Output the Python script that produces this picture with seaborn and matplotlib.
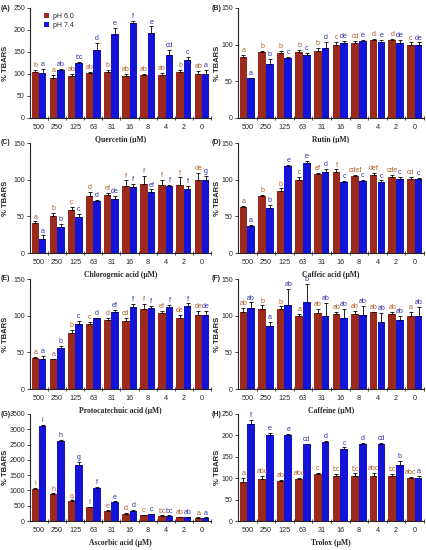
import matplotlib
matplotlib.use("Agg")
import matplotlib.pyplot as plt
import seaborn as sns
import pandas as pd
import numpy as np
from matplotlib.ticker import MultipleLocator

conc = ["500", "250", "125", "63", "31", "16", "8", "4", "2", "0"]
groups = ["pH 6.0", "pH 7.4"]

A_ph6 = [105, 92, 95, 103, 105, 95, 97, 97, 105, 100]
A_ph74 = [102, 110, 124, 155, 191, 216, 194, 143, 132, 100]
A_err6 = [4, 5, 6, 2, 4, 5, 3, 5, 4, 6]
A_err74 = [9, 2, 4, 16, 13, 4, 14, 12, 7, 9]
A_let6 = ["b", "a", "ab", "ab", "b", "ab", "ab", "ab", "b", "ab"]
A_let74 = ["a", "ab", "bc", "d", "e", "f", "e", "cd", "c", "a"]

B_ph6 = [83, 90, 89, 90, 91, 100, 102, 106, 107, 100]
B_ph74 = [54, 73, 81.5, 86.5, 95.5, 102.5, 105, 103, 102, 100]
B_err6 = [3, 1, 3, 3, 4, 4, 3, 2, 1, 3]
B_err74 = [1, 8, 2, 2, 8, 3, 2, 3, 4, 3]
B_let6 = ["a", "b", "b", "b", "b", "c", "cd", "d", "d", "c"]
B_let74 = ["a", "b", "c", "c", "d", "de", "e", "e", "de", "de"]

C_ph6 = [41, 51, 58, 78, 79.5, 92, 94.5, 93, 93, 100]
C_ph74 = [19, 35.5, 49.5, 70.5, 73.5, 90, 82.7, 91, 87.7, 100]
C_err6 = [2, 4, 5, 5, 2, 7, 10, 7, 10, 9]
C_err74 = [5, 4, 4, 2, 4, 4, 4, 2, 4, 5]
C_let6 = ["a", "b", "c", "d", "ef", "f", "f", "f", "f", "de"]
C_let74 = ["a", "b", "c", "d", "de", "f", "ef", "f", "f", "g"]

D_ph6 = [62.7, 78, 84, 99, 107.5, 111, 104.7, 106.6, 103, 100.5]
D_ph74 = [37, 62, 118, 122.6, 110, 96.7, 98, 97, 100.5, 100.5]
D_err6 = [2, 1, 4, 5, 2, 3, 2, 3, 3, 3]
D_err74 = [1, 3, 2, 3, 5, 2, 2, 2, 3, 2]
D_let6 = ["a", "b", "b", "c", "ef", "f", "cdef", "def", "cde", "cd"]
D_let74 = ["a", "b", "e", "e", "d", "c", "c", "c", "c", "c"]

E_ph6 = [41.8, 40.5, 77, 88.6, 94.5, 93, 109, 104, 97, 101]
E_ph74 = [40.5, 55.5, 88.6, 96.4, 105.5, 112, 110, 112, 113.6, 101]
E_err6 = [2, 1, 3, 3, 2, 4, 7, 2, 4, 6]
E_err74 = [5, 3, 4, 1, 2, 4, 3, 3, 3, 6]
E_let6 = ["a", "a", "b", "c", "d", "cd", "f", "ef", "de", "de"]
E_let74 = ["a", "b", "c", "d", "ef", "f", "f", "f", "f", "de"]

F_ph6 = [104.5, 109, 108.6, 99, 103.6, 102, 102, 104.5, 102, 100]
F_ph74 = [111, 86, 114, 118, 100, 97, 100.5, 92, 94, 100]
F_err6 = [6, 5, 4, 3, 5, 3, 5, 1, 3, 5]
F_err74 = [7, 6, 22, 25, 17, 12, 13, 12, 6, 12]
F_let6 = ["ab", "b", "b", "a", "ab", "ab", "ab", "ab", "ab", "a"]
F_let74 = ["ab", "a", "ab", "b", "ab", "ab", "ab", "ab", "ab", "ab"]

G_ph6 = [1054, 870, 652, 456, 326, 239, 196, 174, 130, 109]
G_ph74 = [3109, 2620, 1826, 1076, 609, 337, 228, 174, 130, 109]
G_err6 = [20, 30, 20, 15, 20, 20, 10, 10, 10, 10]
G_err74 = [20, 20, 100, 30, 30, 20, 10, 10, 10, 10]
G_let6 = ["i", "h", "g", "f", "e", "d", "c", "bc", "ab", "a"]
G_let74 = ["i", "h", "g", "f", "e", "d", "c", "bc", "ab", "a"]

H_ph6 = [92, 98, 94, 99, 109, 106, 104, 104, 106, 100]
H_ph74 = [226, 200, 201, 179, 184, 168, 181, 181, 130.5, 100]
H_err6 = [8, 8, 2, 2, 4, 4, 7, 8, 3, 3]
H_err74 = [10, 5, 3, 2, 3, 4, 2, 2, 10, 6]
H_let6 = ["a", "abc", "ab", "abc", "c", "bc", "bc", "abc", "bc", "abc"]
H_let74 = ["f", "e", "e", "cd", "d", "c", "d", "cd", "b", "a"]

panels = [
    ("(A)", "Quercetin (\u03bcM)", A_ph6, A_ph74, A_err6, A_err74, A_let6, A_let74, 250, 50),
    ("(B)", "Rutin (\u03bcM)", B_ph6, B_ph74, B_err6, B_err74, B_let6, B_let74, 150, 50),
    ("(C)", "Chlorogenic acid (\u03bcM)", C_ph6, C_ph74, C_err6, C_err74, C_let6, C_let74, 150, 50),
    ("(D)", "Caffeic acid (\u03bcM)", D_ph6, D_ph74, D_err6, D_err74, D_let6, D_let74, 150, 50),
    ("(E)", "Protocatechuic acid (\u03bcM)", E_ph6, E_ph74, E_err6, E_err74, E_let6, E_let74, 150, 50),
    ("(F)", "Caffeine (\u03bcM)", F_ph6, F_ph74, F_err6, F_err74, F_let6, F_let74, 150, 50),
    ("(G)", "Ascorbic acid (\u03bcM)", G_ph6, G_ph74, G_err6, G_err74, G_let6, G_let74, 3500, 500),
    ("(H)", "Trolox (\u03bcM)", H_ph6, H_ph74, H_err6, H_err74, H_let6, H_let74, 250, 50),
]

sns.set_style("ticks")
plt.rcParams["font.family"] = ["Liberation Sans", "DejaVu Sans"]

bar_colors = {"pH 6.0": "#9C2A1C", "pH 7.4": "#1414D8"}
let_colors = ["#B0602A", "#3434A8"]

fig = plt.figure(figsize=(4.27, 5.5), dpi=100)

row_bottoms = [1 - 118 / 550, 1 - 253 / 550, 1 - 389 / 550, 1 - 521 / 550]
row_h = [110 / 550, 110 / 550, 110 / 550, 107 / 550]
col_left = [30 / 427, 238 / 427]
col_w = [181 / 427, 186 / 427]
panel_lbl_x = [-0.165, -0.142]
ylab_x = [-0.115, -0.092]

for i, (plbl, xlab, v6, v74, e6, e74, l6, l74, ymax, ystep) in enumerate(panels):
    r, c = divmod(i, 2)
    ax = fig.add_axes([col_left[c], row_bottoms[r], col_w[c], row_h[r]])
    df = pd.DataFrame({
        "conc": conc * 2,
        "pH": [groups[0]] * len(conc) + [groups[1]] * len(conc),
        "val": list(v6) + list(v74),
    })
    sns.barplot(data=df, x="conc", y="val", hue="pH", order=conc, hue_order=groups,
                palette=bar_colors, errorbar=None, width=0.82, ax=ax,
                legend=(i == 0), linewidth=0, saturation=1)
    off = ymax * 0.008
    for k, (errs, lets) in enumerate([(e6, l6), (e74, l74)]):
        cont = ax.containers[k]
        for patch, err, let in zip(cont.patches, errs, lets):
            x = patch.get_x() + patch.get_width() / 2
            top = patch.get_height()
            ax.errorbar([x], [top], yerr=[[0], [err]], fmt="none", ecolor="black",
                        elinewidth=0.6, capsize=1.3, capthick=0.6)
            ax.text(x, top + err + off, let, ha="center", va="bottom",
                    fontsize=5.1, color=let_colors[k])
    ax.set_ylim(0, ymax)
    ax.yaxis.set_major_locator(MultipleLocator(ystep))
    ax.set_xlim(-0.5, len(conc) - 0.5)
    ax.set_xticks(np.arange(len(conc)))
    ax.set_xticklabels(conc)
    ax.set_xticks(np.arange(len(conc)) + 0.5, minor=True)
    ax.tick_params(axis="x", which="major", length=0, labelsize=5.2, pad=4)
    ax.tick_params(axis="x", which="minor", length=2.5, width=0.6, direction="inout")
    ax.tick_params(axis="y", which="major", length=2.5, width=0.6, labelsize=5, pad=1.2)
    for s in ["left", "bottom"]:
        ax.spines[s].set_linewidth(0.8)
    sns.despine(ax=ax)
    ax.set_ylabel("% TBARS", fontsize=5.5, fontweight="bold")
    ax.yaxis.set_label_coords(ylab_x[c], 0.5)
    ax.set_xlabel(xlab, fontsize=5.5, fontweight="bold",
                  family=["Liberation Serif", "DejaVu Serif"], labelpad=4)
    ax.text(panel_lbl_x[c], 1.0, plbl, transform=ax.transAxes, ha="left",
            va="center", fontsize=5, fontweight="bold")
    if i == 0:
        leg = ax.legend(loc="upper left", bbox_to_anchor=(0.06, 0.98), frameon=False,
                        fontsize=5, handlelength=0.8, handleheight=0.8,
                        handletextpad=0.6, labelspacing=0.3, borderaxespad=0)

fig.savefig("out.png", dpi=100)
